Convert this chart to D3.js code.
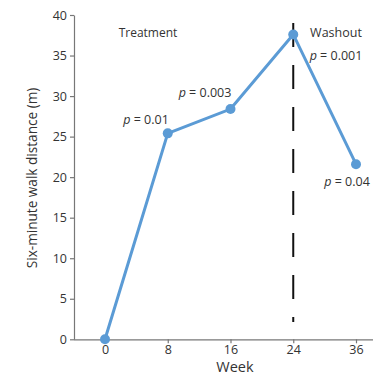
<!DOCTYPE html>
<html><head><meta charset="utf-8">
<script src="https://cdn.jsdelivr.net/npm/d3@7"></script>
<style>body{margin:0;background:#fff;font-family:"Open Sans",sans-serif;}</style>
</head><body><svg id="c" width="373" height="375"></svg>
<script>
const weeks = ["0","8","16","24","36"];
const distance = [0, 25.4, 28.4, 37.6, 21.6];
const pLabels = [null, "0.01", "0.003", "0.001", "0.04"];
const yTicks = [0,5,10,15,20,25,30,35,40];

const svg = d3.select("#c");
const x = d3.scalePoint().domain(weeks).range([105, 356]);
const y = d3.scaleLinear().domain([0,40]).range([339.3, 15]);

const ax = svg.append("g").attr("transform","translate(0,339.3)")
  .call(d3.axisBottom(x).tickSize(4).tickSizeOuter(0));
ax.select(".domain").attr("d","M74,0.5H373");
const ay = svg.append("g").attr("transform","translate(74,0)")
  .call(d3.axisLeft(y).tickValues(yTicks).tickSize(4).tickSizeOuter(0));
[ax,ay].forEach(a=>{
  a.selectAll(".domain,line").attr("stroke","#777").attr("stroke-width",1.2);
  a.selectAll("text").attr("fill","#333").style("font-size","12.5px").style("font-family","Open Sans");
});
ay.selectAll("text").attr("x",-7);
ax.selectAll("text").attr("y",4).attr("dy","0.85em");

svg.append("text").attr("transform","translate(37,178) rotate(-90)")
  .attr("text-anchor","middle").attr("fill","#333").style("font-size","13.6px")
  .text("Six-minute walk distance (m)");
svg.append("text").attr("x",235).attr("y",371.5).attr("text-anchor","middle")
  .attr("fill","#333").style("font-size","14.5px").text("Week");

// dashed line at week 24
svg.append("line").attr("x1",x("24")).attr("x2",x("24")).attr("y1",23).attr("y2",322)
  .attr("stroke","#111").attr("stroke-width",2).attr("stroke-dasharray","24,18");

const line = d3.line().x((d,i)=>x(weeks[i])).y(d=>y(d));
svg.append("path").datum(distance).attr("d",line).attr("fill","none")
  .attr("stroke","#5b9bd5").attr("stroke-width",3);
svg.selectAll("circle.pt").data(distance).join("circle").attr("class","pt")
  .attr("cx",(d,i)=>x(weeks[i])).attr("cy",d=>y(d)).attr("r",5).attr("fill","#5b9bd5");

svg.append("text").attr("x",148).attr("y",37).attr("text-anchor","middle")
  .attr("fill","#333").style("font-size","12px").text("Treatment");
svg.append("text").attr("x",336).attr("y",37).attr("text-anchor","middle")
  .attr("fill","#333").style("font-size","12.5px").text("Washout");

const pPos = [null,[146,124],[205,97],[336,60],[347,186]];
pLabels.forEach((p,i)=>{
  if(!p) return;
  const t = svg.append("text").attr("x",pPos[i][0]).attr("y",pPos[i][1]).attr("text-anchor","middle")
    .attr("fill","#333").style("font-size","12.5px");
  t.append("tspan").style("font-style","italic").text("p");
  t.append("tspan").text(" = " + p);
});
</script></body></html>
